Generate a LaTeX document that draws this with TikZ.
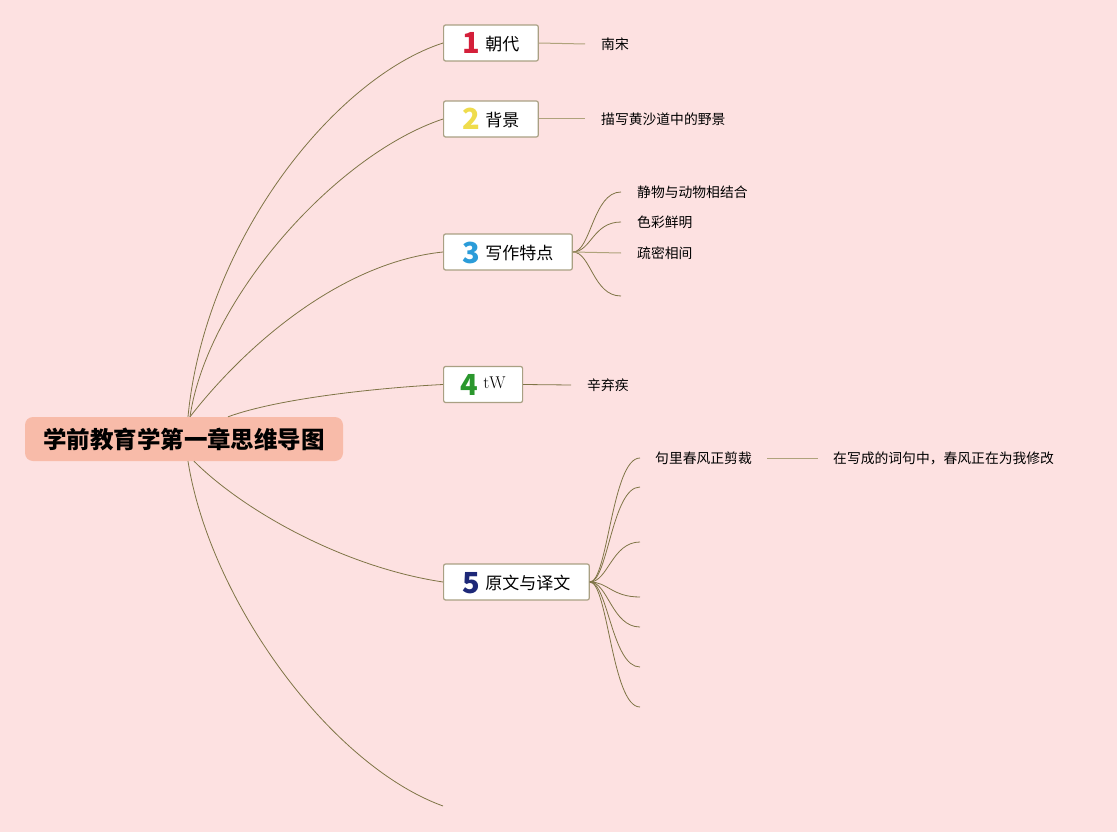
\documentclass[tikz,border=0pt]{standalone}
\usepackage{fontspec}
\newfontfamily\cjk{Noto Sans CJK SC}
\usetikzlibrary{positioning}

\definecolor{bgpink}{HTML}{FDE1E1}
\definecolor{rootfill}{HTML}{F8BBA9}
\definecolor{branchcol}{HTML}{7F7446}
\definecolor{twigcol}{HTML}{AFA37C}
\definecolor{boxline}{HTML}{A9A083}
\definecolor{numA}{HTML}{D41F3A}
\definecolor{numB}{HTML}{EFDC4C}
\definecolor{numC}{HTML}{2B9CD9}
\definecolor{numD}{HTML}{2A972D}
\definecolor{numE}{HTML}{1D2878}

\newcommand{\topicnum}[2]{\smash{\raisebox{-3.5pt}{\fontsize{29}{29}\selectfont\bfseries\color{#1}#2}}\hspace{5pt}}

\tikzset{
  rootbox/.style={fill=rootfill, rounded corners=8pt, minimum width=318pt, minimum height=44pt,
    font=\cjk\bfseries\fontsize{23.5}{24}\selectfont, text=black},
  topic/.style={draw=boxline, line width=1.2pt, fill=white, rounded corners=2pt, anchor=west,
    minimum height=36pt, inner xsep=19pt, inner ysep=0pt, text height=15.5pt, text depth=0.5pt,
    font=\cjk\fontsize{17}{17}\selectfont},
  leaf/.style={anchor=west, inner xsep=16pt, inner ysep=2pt, font=\cjk\fontsize{13.8}{14}\selectfont},
  branch/.style={draw=branchcol, line width=0.8pt},
  twig/.style={draw=twigcol, line width=1pt},
}

\begin{document}
\begin{tikzpicture}[x=1pt, y=-1pt]
\fill[bgpink] (0,0) rectangle (1117,832);
\useasboundingbox (0,0) rectangle (1117,832);

% root
\node[rootbox] (root) at (184,439) {学前教育学第一章思维导图};

% main topics
\node[topic] (t1) at (443,43) {\topicnum{numA}{1}朝代};
\node[topic] (t2) at (443,119) {\topicnum{numB}{2}背景};
\node[topic] (t3) at (443,252) {\topicnum{numC}{3}写作特点};
\node[topic, minimum width=79pt, inner xsep=16pt] (t4) at (443,384.5) {\topicnum{numD}{4}\raisebox{4pt}{\rmfamily\fontsize{17}{17}\selectfont tW}};
\node[topic] (t5) at (443,582) {\topicnum{numE}{5}原文与译文};
\coordinate (t6) at (443,806);

% branches from root
\draw[branch] ([xshift=4pt]root.north) .. controls +(17,-177) and +(-108,35) .. (t1.west);
\draw[branch] ([xshift=6pt]root.north) .. controls +(17,-117) and +(-108,36) .. (t2.west);
\draw[branch] ([xshift=6pt]root.north) .. controls +(60,-77) and +(-98,10) .. (t3.west);
\draw[branch] ([xshift=44pt]root.north) .. controls +(52,-19) and +(-60,3) .. (t4.west);
\draw[branch] ([xshift=10pt]root.south) .. controls +(49,49) and +(-100,-15) .. (t5.west);
\draw[branch] ([xshift=4pt]root.south) .. controls +(22,139) and +(-113,-41) .. (t6);

% topic 1, 2, 4
\node[leaf] (l1) at (585,44) {南宋};
\draw[twig] (t1.east) -- (l1.west);
\node[leaf] (l2) at (585,119) {描写黄沙道中的野景};
\draw[twig] (t2.east) -- (l2.west);
\node[leaf] (l4) at (571,385) {辛弃疾};
\draw[branch] (t4.east) -- (l4.west);

% topic 3
\node[leaf] (l3a) at (621,192) {静物与动物相结合};
\node[leaf] (l3b) at (621,222) {色彩鲜明};
\node[leaf] (l3c) at (621,253) {疏密相间};
\coordinate (l3d) at (621,296);
\foreach \n in {l3a,l3b,l3d}
  \draw[branch] (t3.east) .. controls +(18,0) and +(-28,0) .. (\n.west);
\draw[twig] (t3.east) -- (l3c.west);

% topic 5
\node[leaf, inner xsep=15pt] (l5a) at (640,458) {句里春风正剪裁};
\node[leaf, inner xsep=15pt] (l5t) at (818,458) {在写成的词句中，春风正在为我修改};
\draw[twig] (l5a.east) -- (l5t.west);
\draw[branch] (t5.east) .. controls +(18,0) and +(-28,0) .. (l5a.west);
\foreach \y [count=\i] in {487,542,597,627,667,707} {
  \coordinate (e5\i) at (640,\y);
  \draw[branch] (t5.east) .. controls +(18,0) and +(-28,0) .. (e5\i);
}
\end{tikzpicture}
\end{document}
